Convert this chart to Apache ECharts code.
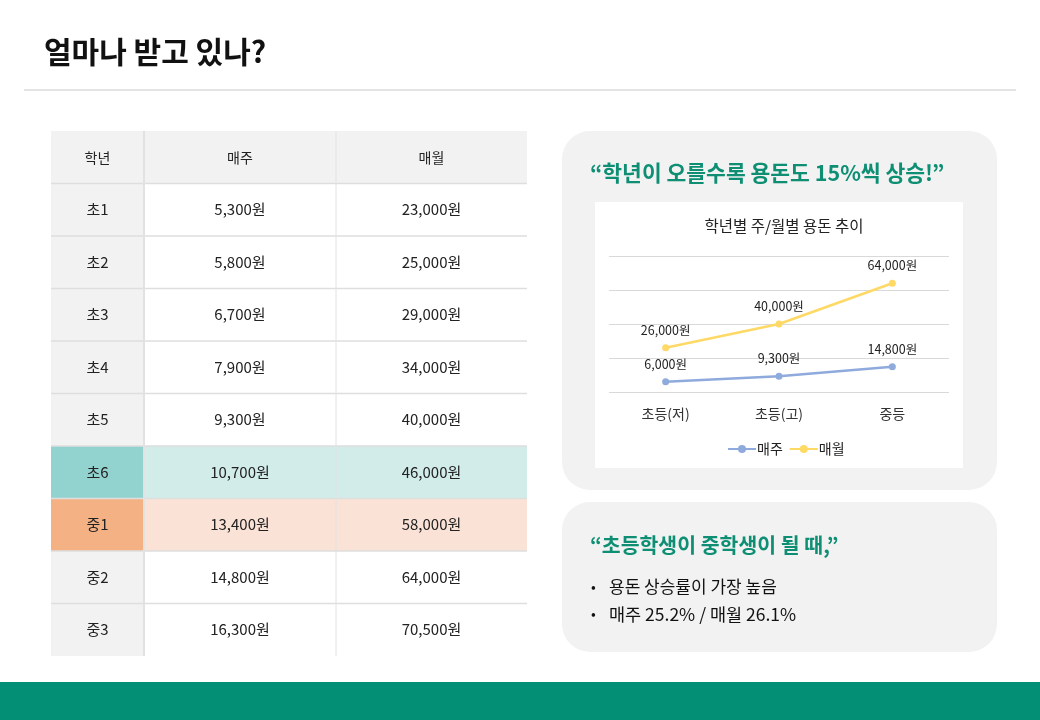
<!DOCTYPE html>
<html>
<head>
<meta charset="utf-8">
<script src="https://cdn.jsdelivr.net/npm/echarts@6/dist/echarts.min.js"></script>
<style>
  html, body { margin: 0; padding: 0; background: #fff; }
  #main { width: 1040px; height: 720px; }
</style>
</head>
<body>
<div id="main"></div>
<script>
// table data
var headers = ['학년', '매주', '매월'];
var grades = ['초1', '초2', '초3', '초4', '초5', '초6', '중1', '중2', '중3'];
var weekly = [5300, 5800, 6700, 7900, 9300, 10700, 13400, 14800, 16300];
var monthly = [23000, 25000, 29000, 34000, 40000, 46000, 58000, 64000, 70500];

// chart data
var stages = ['초등(저)', '초등(고)', '중등'];
var stageWeekly = [6000, 9300, 14800];
var stageMonthly = [26000, 40000, 64000];

var FONT = '"Noto Sans CJK KR", "Noto Sans", sans-serif';
var GREEN = '#0e8f74';

function won(v) {
    return v.toLocaleString('en-US') + '원';
}

// 표 그리기
function buildTable() {
    var els = [];
    var x0 = 51, top = 131, rowH = 52.5;
    var colX = [51, 144, 336, 527];
    var rows = [headers];
    for (var i = 0; i < grades.length; i++) {
        rows.push([grades[i], won(weekly[i]), won(monthly[i])]);
    }
    for (var r = 0; r < rows.length; r++) {
        var y = top + r * rowH;
        for (var c = 0; c < 3; c++) {
            var fill = '#ffffff';
            if (r === 0 || c === 0) fill = '#f2f2f2';
            if (grades[r - 1] === '초6') fill = c === 0 ? '#93d3cf' : '#d2ecea';
            if (grades[r - 1] === '중1') fill = c === 0 ? '#f4b184' : '#fae3d6';
            els.push({
                type: 'rect',
                shape: { x: colX[c], y: y, width: colX[c + 1] - colX[c], height: rowH },
                style: { fill: fill }
            });
            els.push({
                type: 'text',
                x: (colX[c] + colX[c + 1]) / 2,
                y: y + rowH / 2,
                style: {
                    text: rows[r][c], fill: '#222', font: (r === 0 ? '14px ' : '15px ') + FONT,
                    align: 'center', verticalAlign: 'middle'
                }
            });
        }
        if (r > 0) {
            els.push({
                type: 'line',
                shape: { x1: x0, y1: y, x2: 527, y2: y },
                style: { stroke: '#dedede', lineWidth: 1.5 }
            });
        }
    }
    var bottom = top + rows.length * rowH;
    els.push({ type: 'line', shape: { x1: 144, y1: top, x2: 144, y2: bottom }, style: { stroke: '#e2e2e2', lineWidth: 2 } });
    els.push({ type: 'line', shape: { x1: 336, y1: top, x2: 336, y2: bottom }, style: { stroke: '#e2e2e2', lineWidth: 1 } });
    return els;
}

var graphics = [
    { type: 'text', x: 44, y: 52, style: { text: '얼마나 받고 있나?', fill: '#111', font: 'bold 30px ' + FONT, verticalAlign: 'middle' } },
    { type: 'line', shape: { x1: 24, y1: 90, x2: 1016, y2: 90 }, style: { stroke: '#c8c8c8', lineWidth: 1 } },
    { type: 'rect', shape: { x: 0, y: 682, width: 1040, height: 38 }, style: { fill: '#028f76' } },
    { type: 'rect', z: -10, shape: { x: 562, y: 131, width: 435, height: 359, r: 28 }, style: { fill: '#f2f2f2' } },
    { type: 'rect', z: -9, shape: { x: 595, y: 202, width: 368, height: 266 }, style: { fill: '#ffffff' } },
    { type: 'text', x: 590, y: 173, style: { text: '\u201c학년이 오를수록 용돈도 15%씩 상승!\u201d', fill: GREEN, font: 'bold 21.5px ' + FONT, verticalAlign: 'middle' } },
    { type: 'rect', z: -10, shape: { x: 562, y: 502, width: 435, height: 150, r: 28 }, style: { fill: '#f2f2f2' } },
    { type: 'text', x: 590, y: 545, style: { text: '\u201c초등학생이 중학생이 될 때,\u201d', fill: GREEN, font: 'bold 20.5px ' + FONT, verticalAlign: 'middle' } },
    { type: 'text', x: 591, y: 587, style: { text: '•', fill: '#111', font: '14px ' + FONT, verticalAlign: 'middle' } },
    { type: 'text', x: 609, y: 587, style: { text: '용돈 상승률이 가장 높음', fill: '#111', font: '17px ' + FONT, verticalAlign: 'middle' } },
    { type: 'text', x: 591, y: 614, style: { text: '•', fill: '#111', font: '14px ' + FONT, verticalAlign: 'middle' } },
    { type: 'text', x: 609, y: 614, style: { text: '매주 25.2% / 매월 26.1%', fill: '#111', font: '17.5px ' + FONT, verticalAlign: 'middle' } }
].concat(buildTable());

var chart = echarts.init(document.getElementById('main'), null, { renderer: 'canvas' });
var option = {
    animation: false,
    textStyle: { fontFamily: FONT },
    title: {
        text: '학년별 주/월별 용돈 추이',
        left: 779, top: 213, textAlign: 'center',
        textStyle: { fontSize: 15.5, fontWeight: 'normal', color: '#222', fontFamily: FONT }
    },
    legend: {
        data: ['매주', '매월'],
        left: 722, top: 437,
        itemWidth: 28, itemHeight: 10, itemGap: 6,
        textStyle: { fontSize: 14, color: '#222', fontFamily: FONT, padding: [0, 0, 0, -4] }
    },
    grid: { left: 609, right: 91, top: 256, bottom: 328, containLabel: false },
    xAxis: {
        type: 'category',
        data: stages,
        boundaryGap: true,
        axisLine: { show: false },
        axisTick: { show: false },
        axisLabel: { margin: 15, fontSize: 14, color: '#333', fontFamily: FONT }
    },
    yAxis: {
        type: 'value',
        min: 0, max: 80000, interval: 20000,
        axisLabel: { show: false },
        axisLine: { show: false },
        axisTick: { show: false },
        splitLine: { lineStyle: { color: '#d9d9d9', width: 1 } }
    },
    series: [
        {
            name: '매주', type: 'line', data: stageWeekly,
            symbol: 'circle', symbolSize: 7,
            itemStyle: { color: '#8faadc' },
            lineStyle: { color: '#8faadc', width: 2.5 },
            label: { show: true, position: 'top', distance: 8, fontSize: 12.5, color: '#222', formatter: function (p) { return won(p.value); } }
        },
        {
            name: '매월', type: 'line', data: stageMonthly,
            symbol: 'circle', symbolSize: 7,
            itemStyle: { color: '#ffd966' },
            lineStyle: { color: '#ffd966', width: 2.5 },
            label: { show: true, position: 'top', distance: 8, fontSize: 12.5, color: '#222', formatter: function (p) { return won(p.value); } }
        }
    ],
    graphic: graphics
};
chart.setOption(option);
</script>
</body>
</html>
